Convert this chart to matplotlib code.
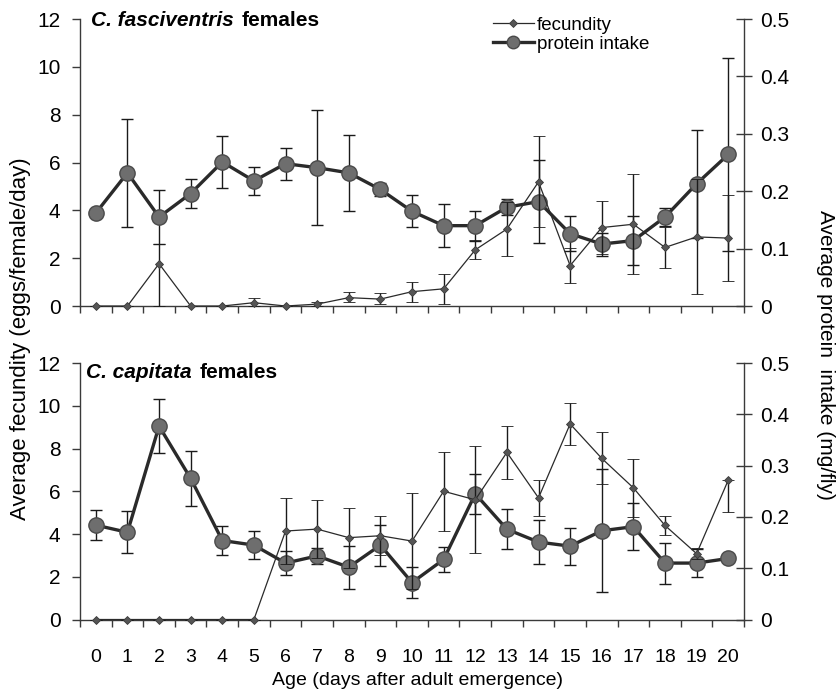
import numpy as np
import matplotlib
matplotlib.use("Agg")
import matplotlib.pyplot as plt
from matplotlib.lines import Line2D

plt.rcParams['font.family'] = ['Liberation Sans', 'DejaVu Sans']

days = list(range(21))
day_labels = [str(d) for d in days]

# C. fasciventris females
fas_fec = [0, 0, 1.77, 0, 0, 0.14, 0, 0.08, 0.35, 0.29, 0.6, 0.72,
           2.35, 3.22, 5.19, 1.69, 3.28, 3.42, 2.45, 2.89, 2.84]
fas_fec_lo = [0, 0, 1.77, 0, 0, 0.14, 0, 0.08, 0.2, 0.2, 0.42, 0.62,
              0.39, 1.14, 1.9, 0.72, 1.1, 2.1, 0.85, 2.4, 1.8]
fas_fec_hi = [0, 0, 0.83, 0, 0, 0.21, 0, 0.1, 0.25, 0.24, 0.42, 0.62,
              0.39, 1.14, 1.9, 0.72, 1.1, 2.1, 0.85, 2.4, 1.8]
fas_prot = [0.162, 0.232, 0.155, 0.196, 0.251, 0.218, 0.248, 0.241, 0.232,
            0.203, 0.165, 0.140, 0.140, 0.172, 0.182, 0.126, 0.108, 0.114,
            0.155, 0.213, 0.264]
fas_prot_err = [0, 0.094, 0.047, 0.025, 0.045, 0.025, 0.028, 0.1, 0.066,
                0.012, 0.028, 0.037, 0.026, 0.014, 0.073, 0.03, 0.02, 0.042,
                0.015, 0.094, 0.168]

# C. capitata females
cap_fec = [0, 0, 0, 0, 0, 0, 4.14, 4.23, 3.83, 3.92, 3.67, 6.0,
           5.6, 7.82, 5.69, 9.15, 7.54, 6.16, 4.4, 3.08, 6.52]
cap_fec_lo = [0, 0, 0, 0, 0, 0, 1.56, 1.35, 1.4, 0.9, 2.23, 1.85,
              2.5, 1.24, 0.85, 1.0, 1.22, 1.35, 0.43, 0.25, 1.5]
cap_fec_hi = [0, 0, 0, 0, 0, 0, 1.56, 1.35, 1.4, 0.9, 2.23, 1.85,
              2.5, 1.24, 0.85, 1.0, 1.22, 1.35, 0.43, 0.25, 0]
cap_prot = [0.184, 0.170, 0.377, 0.275, 0.154, 0.145, 0.110, 0.124, 0.102,
            0.145, 0.072, 0.117, 0.245, 0.176, 0.151, 0.143, 0.173, 0.181,
            0.110, 0.110, 0.119]
cap_prot_err = [0.029, 0.041, 0.053, 0.053, 0.028, 0.028, 0.024, 0.016, 0.042,
                0.04, 0.03, 0.024, 0.039, 0.039, 0.043, 0.036, 0.12, 0.046,
                0.04, 0.027, 0]

fig = plt.figure(figsize=(8.36, 6.96), dpi=100)
ax_top = fig.add_axes([0.0957, 0.5603, 0.7943, 0.4124])
ax_bot = fig.add_axes([0.0957, 0.1099, 0.7943, 0.3685])

axis_col = '#3a3a3a'
fec_style = dict(color='#2a2a2a', lw=0.9, marker='D', ms=4.2,
                 mfc='#555555', mec='#3a3a3a', mew=0.6)
prot_style = dict(color='#2a2a2a', lw=2.4, marker='o', ms=11,
                  mfc='#6e6e6e', mec='#4a4a4a', mew=1.0)


def panel(ax, fec, fec_lo, fec_hi, prot, prot_err, sp_name, name_xy,
          show_labels):
    ax2 = ax.twinx()
    ax.set_xlim(-0.5, 20.5)
    ax.set_ylim(0, 12)
    ax2.set_ylim(0, 0.5)
    ax.set_zorder(ax2.get_zorder() + 1)
    ax.patch.set_visible(False)

    ax.errorbar(days, fec, yerr=[fec_lo, fec_hi], ecolor='#1a1a1a',
                elinewidth=1.0, capsize=4.5, capthick=1.0, clip_on=False,
                zorder=4, **fec_style)
    ax2.errorbar(days, prot, yerr=prot_err, ecolor='#1a1a1a',
                 elinewidth=1.0, capsize=4.5, capthick=1.0, clip_on=False,
                 zorder=3, **prot_style)

    for a in (ax, ax2):
        a.spines['top'].set_visible(False)
        for s in a.spines.values():
            s.set_color(axis_col)
            s.set_linewidth(1.0)
    ax.spines['right'].set_visible(False)
    ax2.spines['left'].set_visible(False)
    ax2.spines['bottom'].set_visible(False)

    ax.set_yticks(range(0, 13, 2))
    ax.tick_params(axis='y', direction='out', length=6, width=1.0,
                   color=axis_col, labelsize=15, pad=8)
    ax2.set_yticks([0, 0.1, 0.2, 0.3, 0.4, 0.5])
    ax2.set_yticklabels(['0', '0.1', '0.2', '0.3', '0.4', '0.5'])
    ax2.tick_params(axis='y', direction='inout', length=11, width=1.0,
                    color=axis_col, labelsize=15, pad=6)

    # category axis: tick marks between days, labels centred on each day
    ax.set_xticks(days)
    ax.set_xticks(np.arange(-0.5, 21, 1), minor=True)
    ax.tick_params(axis='x', which='major', length=0, pad=21)
    ax.tick_params(axis='x', which='minor', direction='out', length=5,
                   width=1.0, color=axis_col)
    if show_labels:
        ax.set_xticklabels(day_labels, fontsize=14)
    else:
        ax.set_xticklabels([])

    name = ax.text(name_xy[0], name_xy[1], sp_name, transform=ax.transAxes,
                   ha='left', va='baseline', fontsize=15, fontweight='bold',
                   fontstyle='italic')
    ax.annotate('females', xy=(1, 0), xycoords=name, xytext=(6, 0),
                textcoords='offset points', ha='left', va='bottom',
                fontsize=15, fontweight='bold')
    return ax2


ax_top2 = panel(ax_top, fas_fec, fas_fec_lo, fas_fec_hi, fas_prot,
                fas_prot_err, 'C. fasciventris', (0.016, 0.975), False)
ax_bot2 = panel(ax_bot, cap_fec, cap_fec_lo, cap_fec_hi, cap_prot,
                cap_prot_err, 'C. capitata', (0.009, 0.940), True)

handles = [Line2D([], [], **fec_style),
           Line2D([], [], **dict(prot_style, ms=9))]
ax_top.legend(handles, ['fecundity', 'protein intake'], loc='upper left',
              bbox_to_anchor=(0.61, 1.035), frameon=False, fontsize=13.5,
              handlelength=2.2, handletextpad=0.15, labelspacing=0.1,
              borderaxespad=0)

fig.text(0.025, 0.514, 'Average fecundity (eggs/female/day)', rotation=90,
         ha='center', va='center', fontsize=16)
fig.text(0.988, 0.49, 'Average protein  intake (mg/fly)', rotation=-90,
         ha='center', va='center', fontsize=15)
fig.text(0.5, 0.022, 'Age (days after adult emergence)', ha='center',
         va='center', fontsize=14)

fig.savefig('out.png', dpi=100)
